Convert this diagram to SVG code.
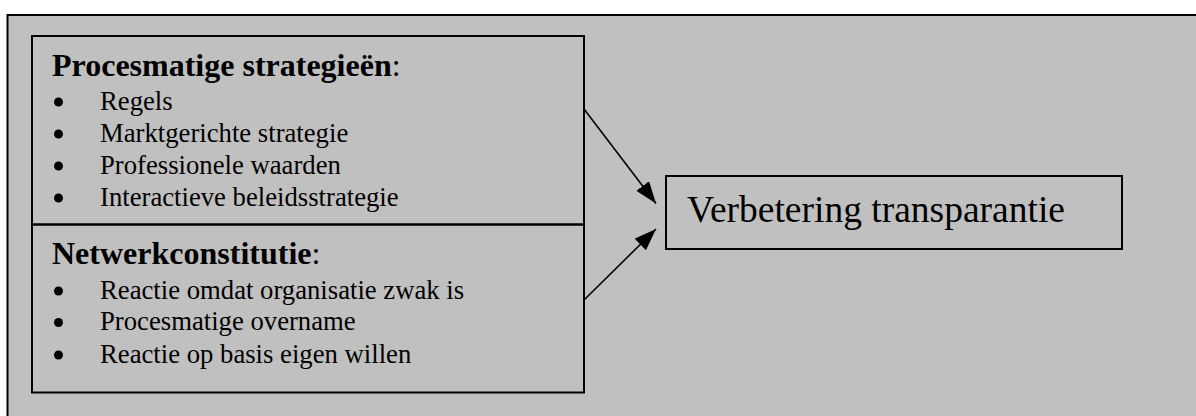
<svg xmlns="http://www.w3.org/2000/svg" width="1196" height="416" viewBox="0 0 1196 416">
<style>
  .box{fill:none;stroke:#000;stroke-width:2}
  .t{font-family:"Liberation Serif","Times New Roman",serif;fill:#000}
  .h{font-size:32px}
  .i{font-size:26.7px}
  .big{font-size:37.5px}
  .conn{stroke:#000;stroke-width:1.6;fill:none}
</style>
<defs>
  <marker id="ah" markerUnits="userSpaceOnUse" markerWidth="24" markerHeight="18" viewBox="0 0 24 18" refX="22" refY="8" orient="auto">
    <path d="M0,0 L22,8 L0,16 z" fill="#000"/>
  </marker>
</defs>
<rect x="0" y="0" width="1196" height="416" fill="#fff"/>
<rect x="7.5" y="15" width="1200" height="420" fill="#c0c0c0" stroke="#000" stroke-width="2"/>
<g id="strategieen">
  <rect class="box" x="32" y="36" width="552" height="188.5"/>
  <text class="t h" x="52" y="76"><tspan font-weight="bold">Procesmatige strategieën</tspan>:</text>
  <g fill="#000">
    <circle cx="58.5" cy="102" r="4.5"/>
    <circle cx="58.5" cy="134" r="4.5"/>
    <circle cx="58.5" cy="166" r="4.5"/>
    <circle cx="58.5" cy="198" r="4.5"/>
  </g>
  <text class="t i" x="100" y="110">Regels</text>
  <text class="t i" x="100" y="142">Marktgerichte strategie</text>
  <text class="t i" x="100" y="174">Professionele waarden</text>
  <text class="t i" x="100" y="206">Interactieve beleidsstrategie</text>
</g>
<g id="netwerkconstitutie">
  <rect class="box" x="32" y="224.5" width="552" height="168"/>
  <text class="t h" x="52" y="264"><tspan font-weight="bold">Netwerkconstitutie</tspan>:</text>
  <g fill="#000">
    <circle cx="58.5" cy="291" r="4.5"/>
    <circle cx="58.5" cy="322.5" r="4.5"/>
    <circle cx="58.5" cy="355" r="4.5"/>
  </g>
  <text class="t i" x="100" y="299">Reactie omdat organisatie zwak is</text>
  <text class="t i" x="100" y="330">Procesmatige overname</text>
  <text class="t i" x="100" y="363">Reactie op basis eigen willen</text>
</g>
<g id="transparantie">
  <rect class="box" x="666" y="176" width="456" height="73"/>
  <text class="t big" x="687" y="222">Verbetering transparantie</text>
</g>
<g id="connectors">
  <line class="conn" x1="584" y1="109" x2="656" y2="203.5" marker-end="url(#ah)"/>
  <line class="conn" x1="584" y1="300" x2="656" y2="229" marker-end="url(#ah)"/>
</g>
</svg>
